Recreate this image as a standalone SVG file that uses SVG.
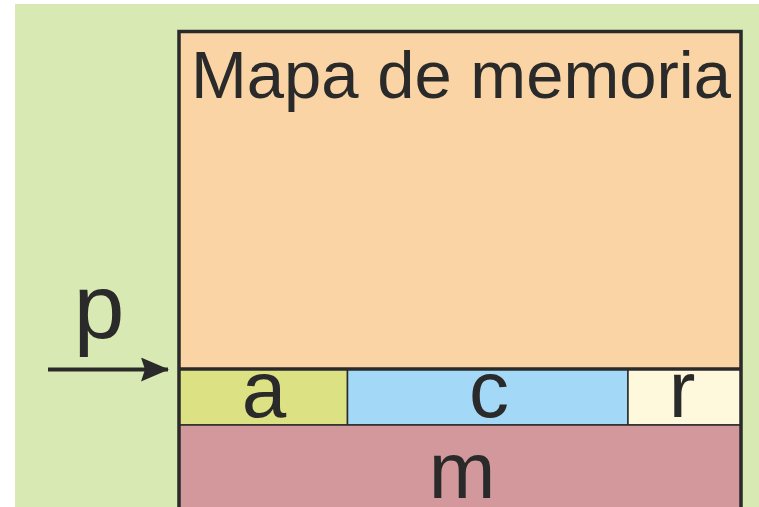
<svg xmlns="http://www.w3.org/2000/svg" width="759" height="507" viewBox="0 0 759 507">
<defs>
<style>
.t{font-family:"Liberation Sans",Arial,sans-serif;fill:#2a2a2a;text-anchor:middle}
.thin{stroke:#2a2a2a;stroke-width:1.5}
</style>
<marker id="ah" viewBox="0 0 28 24" refX="27" refY="12" markerWidth="28" markerHeight="24" markerUnits="userSpaceOnUse" orient="auto">
<path d="M0,0 L28,12 L0,24 L4,12 Z" fill="#2a2a2a"/>
</marker>
</defs>
<rect x="15" y="4" width="744" height="503" fill="#d9e9b3"/>
<g id="mapa">
<rect x="179" y="31.5" width="562" height="338" fill="#fad4a5"/>
<text class="t" x="461" y="98" font-size="67">Mapa de memoria</text>
</g>
<g id="a">
<rect x="179" y="369" width="168.5" height="56" fill="#dce184" class="thin"/>
<text class="t" x="264" y="417" font-size="80">a</text>
</g>
<g id="c">
<rect x="347.5" y="369" width="280.5" height="56" fill="#a3d9f6" class="thin"/>
<text class="t" x="489" y="417" font-size="80">c</text>
</g>
<g id="r">
<rect x="628" y="369" width="113" height="56" fill="#fef8dc" class="thin"/>
<text class="t" x="682" y="417" font-size="80">r</text>
</g>
<g id="m">
<rect x="179" y="425" width="562" height="90" fill="#d3989b" class="thin"/>
<text class="t" x="462" y="498" font-size="80">m</text>
</g>
<g id="p">
<text class="t" x="99" y="338" font-size="91">p</text>
</g>
<g id="frame" fill="none" stroke="#2a2a2a" stroke-width="3.5">
<path d="M179,510 V31.5 H741 V510"/>
<line x1="179" y1="369" x2="741" y2="369"/>
</g>
<g id="connectors">
<line x1="48" y1="369.5" x2="168" y2="369.5" stroke="#2a2a2a" stroke-width="4" marker-end="url(#ah)"/>
</g>
</svg>
